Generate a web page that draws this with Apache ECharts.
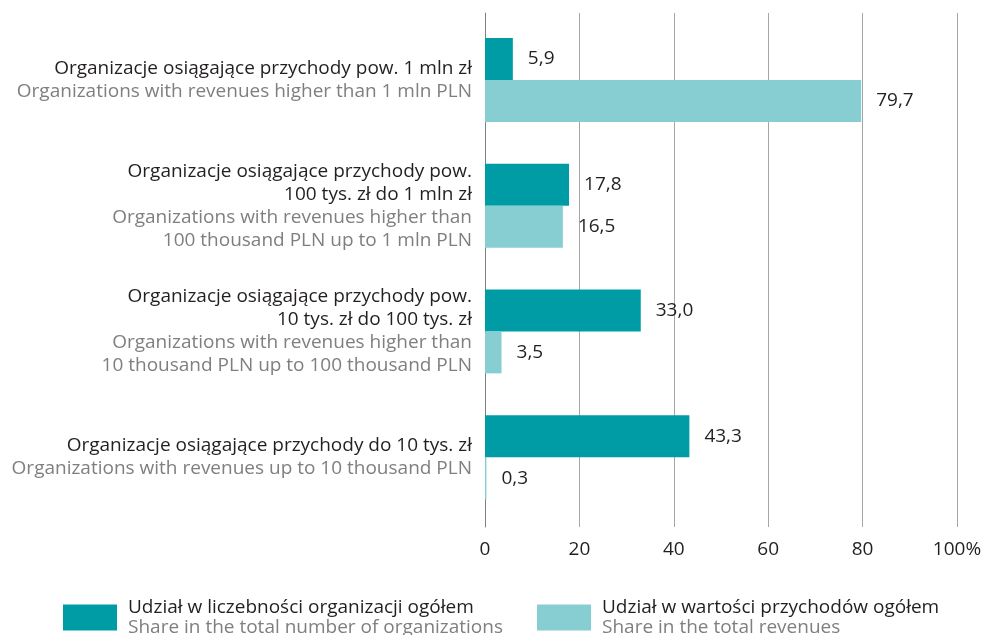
<!DOCTYPE html>
<html><head><meta charset="utf-8">
<script src="https://cdn.jsdelivr.net/npm/echarts@6/dist/echarts.min.js"></script>
<style>html,body{margin:0;padding:0;background:#fff}#c{width:992px;height:635px}</style>
</head><body><div id="c"></div>
<script>
const categoriesPL = [
  'Organizacje osiągające przychody pow. 1 mln zł',
  'Organizacje osiągające przychody pow.\n100 tys. zł do 1 mln zł',
  'Organizacje osiągające przychody pow.\n10 tys. zł do 100 tys. zł',
  'Organizacje osiągające przychody do 10 tys. zł'
];
const categoriesEN = [
  'Organizations with revenues higher than 1 mln PLN',
  'Organizations with revenues higher than\n100 thousand PLN up to 1 mln PLN',
  'Organizations with revenues higher than\n10 thousand PLN up to 100 thousand PLN',
  'Organizations with revenues up to 10 thousand PLN'
];
const shareCount = [5.9, 17.8, 33.0, 43.3];
const shareRevenue = [79.7, 16.5, 3.5, 0.3];
const xTicks = [0, 20, 40, 60, 80, 100];
const seriesNamesPL = ['Udział w liczebności organizacji ogółem', 'Udział w wartości przychodów ogółem'];
const seriesNamesEN = ['Share in the total number of organizations', 'Share in the total revenues'];

const FONT = 'Open Sans';
const FS = 19;
const DARK = '#009ca6';
const LIGHT = '#87ced3';
const TXT = '#231f20';
const GRAY = '#7f7f7f';

const cats = categoriesPL.map((p, i) => String(i));
function catLabel(v) {
  const i = +v;
  const a = categoriesPL[i].split('\n').map(s => '{a|' + s + '}');
  const b = categoriesEN[i].split('\n').map(s => '{b|' + s + '}');
  return a.concat(b).join('\n');
}
function legendFmt(name) {
  const i = seriesNamesPL.indexOf(name);
  return '{a|' + name + '}\n{b|' + seriesNamesEN[i] + '}';
}
const fmtNum = v => v.toFixed(1).replace('.', ',');

const chart = echarts.init(document.getElementById('c'), null, {renderer: 'canvas'});
const legendCommon = {
  orient: 'horizontal', itemWidth: 54, itemHeight: 26, itemGap: 0, icon: 'rect', top: 598, padding: 0,
  textStyle: {
    fontFamily: FONT, fontSize: FS, padding: [0, 0, 0, 6],
    rich: {
      a: {fontFamily: FONT, fontSize: FS, color: TXT, lineHeight: 20},
      b: {fontFamily: FONT, fontSize: FS, color: GRAY, lineHeight: 20}
    }
  },
  formatter: legendFmt, selectedMode: false
};
chart.setOption({
  animation: false,
  textStyle: {fontFamily: FONT},
  grid: [
    {left: 485, width: 472, top: 17, height: 503},
    {left: 485, width: 472, top: 13, height: 514}
  ],
  legend: [
    Object.assign({}, legendCommon, {left: 63, data: [seriesNamesPL[0]]}),
    Object.assign({}, legendCommon, {left: 537, data: [seriesNamesPL[1]]})
  ],
  xAxis: [
    {type: 'value', gridIndex: 0, min: 0, max: 100, interval: 20, show: false},
    {type: 'value', gridIndex: 1, min: 0, max: 100, interval: 20,
     axisLine: {show: false}, axisTick: {show: false},
     splitLine: {show: true, lineStyle: {color: '#a6a6a6', width: 1}},
     axisLabel: {margin: 13, color: TXT, fontFamily: FONT, fontSize: FS,
       formatter: v => v === 100 ? '100%' : String(v)}}
  ],
  yAxis: [
    {type: 'category', gridIndex: 0, data: cats, inverse: true,
     axisLine: {show: false}, axisTick: {show: false},
     axisLabel: {margin: 13, formatter: catLabel, align: 'right',
       rich: {
         a: {fontFamily: FONT, fontSize: FS, color: TXT, lineHeight: 23, align: 'right'},
         b: {fontFamily: FONT, fontSize: FS, color: GRAY, lineHeight: 23, align: 'right'}
       }}},
    {type: 'category', gridIndex: 1, data: cats, axisLabel: {show: false}, axisTick: {show: false},
     axisLine: {show: true, lineStyle: {color: '#808080', width: 1}}}
  ],
  series: [
    {name: seriesNamesPL[0], type: 'bar', xAxisIndex: 0, yAxisIndex: 0, data: shareCount,
     barWidth: 42, barGap: '0%', itemStyle: {color: DARK},
     label: {show: true, position: 'right', distance: 15, color: TXT, fontFamily: FONT, fontSize: FS,
       formatter: p => fmtNum(p.value)}},
    {name: seriesNamesPL[1], type: 'bar', xAxisIndex: 0, yAxisIndex: 0, data: shareRevenue,
     barWidth: 42, barGap: '0%', itemStyle: {color: LIGHT},
     label: {show: true, position: 'right', distance: 15, color: TXT, fontFamily: FONT, fontSize: FS,
       formatter: p => fmtNum(p.value)}}
  ]
});
</script></body></html>
